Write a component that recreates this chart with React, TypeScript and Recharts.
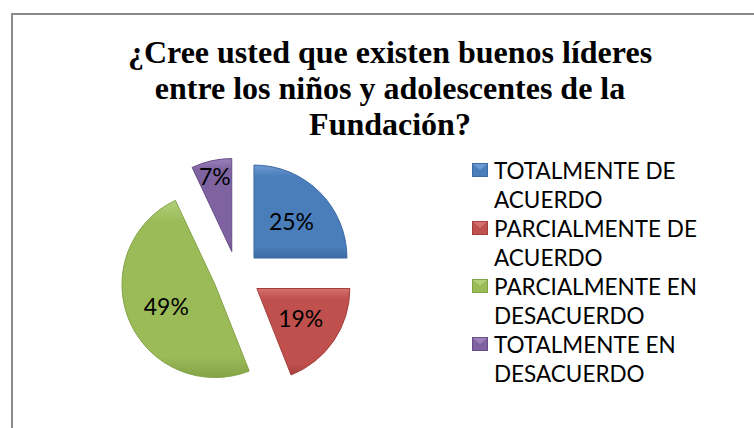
import React from 'react';
import { PieChart, Pie, Cell, Legend, Sector } from 'recharts';

const categories = [
  'TOTALMENTE DE ACUERDO',
  'PARCIALMENTE DE ACUERDO',
  'PARCIALMENTE EN DESACUERDO',
  'TOTALMENTE EN DESACUERDO',
];
const values = [25, 19, 49, 7];
const titleLines = [
  '¿Cree usted que existen buenos líderes',
  'entre los niños y adolescentes de la',
  'Fundación?',
];

const baseColors = ['#4a7ebb', '#c0504d', '#9bbb59', '#7f63a1'];
const lightColors = ['#6f9ad3', '#d4716e', '#b2d078', '#9b82bb'];
const darkColors = ['#3d6ba3', '#a23f3c', '#84a346', '#674d88'];

const data = categories.map((name, i) => ({ name, value: values[i] }));

const RAD = Math.PI / 180;
const EXPLODE = 24;
const CX = 237;
const CY = 275;
const R = 93;

// every slice is pulled out from the centre along its mid angle
const ExplodedSector = (props: any) => {
  const { cx, cy, midAngle } = props;
  const dx = EXPLODE * Math.cos(-midAngle * RAD);
  const dy = EXPLODE * Math.sin(-midAngle * RAD);
  return <Sector {...props} cx={cx + dx} cy={cy + dy} />;
};

const renderLabel = (props: any) => {
  const { cx, cy, midAngle, outerRadius, percent, index } = props;
  const k = index === 3 ? 0.83 : 0.57;
  const r = EXPLODE + outerRadius * k;
  const x = cx + r * Math.cos(-midAngle * RAD);
  const y = cy + r * Math.sin(-midAngle * RAD);
  return (
    <text
      x={x}
      y={y}
      textAnchor="middle"
      dominantBaseline="central"
      fontFamily="Lato"
      fontSize={23}
      fill="#000"
    >
      {`${Math.round(percent * 100)}%`}
    </text>
  );
};

const renderLegend = (props: any) => {
  const payload = [...(props.payload || [])].sort(
    (a: any, b: any) => categories.indexOf(a.value) - categories.indexOf(b.value)
  );
  return (
    <div style={{ fontFamily: 'Lato', fontSize: 22.5, lineHeight: '29px', color: '#000' }}>
      {payload.map((entry: any) => {
        const i = categories.indexOf(entry.value);
        return (
          <div key={entry.value} style={{ position: 'relative', paddingLeft: 22, width: 215 }}>
            <svg width={16} height={14} style={{ position: 'absolute', left: 0, top: 7 }}>
              <rect x={0} y={0} width={16} height={14} fill={baseColors[i]} />
              <polygon points="1,1 15,1 8,7" fill={lightColors[i]} />
              <rect x={0.5} y={0.5} width={15} height={13} fill="none" stroke={darkColors[i]} />
            </svg>
            {entry.value}
          </div>
        );
      })}
    </div>
  );
};

export default function App() {
  return (
    <div style={{ position: 'absolute', left: 0, top: 0, width: 754, height: 428, overflow: 'hidden', background: '#fff' }}>
      <div
        style={{
          position: 'absolute',
          left: 11,
          top: 13,
          width: 800,
          height: 500,
          borderLeft: '2px solid #8a8a8a',
          borderTop: '2px solid #8a8a8a',
        }}
      />
      <div style={{ position: 'absolute', left: 0, top: 0 }}>
        <PieChart width={754} height={428} margin={{ top: 0, right: 0, bottom: 0, left: 0 }}>
          <defs>
            {baseColors.map((c, i) => (
              <linearGradient key={i} id={`grad${i}`} x1="0" y1="0" x2="0" y2="1">
                <stop offset="0%" stopColor={lightColors[i]} />
                <stop offset="12%" stopColor={c} />
                <stop offset="88%" stopColor={c} />
                <stop offset="100%" stopColor={darkColors[i]} />
              </linearGradient>
            ))}
          </defs>
          <text
            x={390}
            textAnchor="middle"
            fontFamily="'Liberation Serif', 'DejaVu Serif', serif"
            fontWeight="bold"
            fontSize={32}
            fill="#000"
          >
            {titleLines.map((line, i) => (
              <tspan key={i} x={390} y={63 + i * 36}>
                {line}
              </tspan>
            ))}
          </text>
          <Pie
            data={data}
            dataKey="value"
            nameKey="name"
            cx={CX}
            cy={CY}
            outerRadius={R}
            startAngle={90}
            endAngle={-270}
            shape={ExplodedSector}
            label={renderLabel}
            labelLine={false}
            isAnimationActive={false}
          >
            {data.map((d, i) => (
              <Cell key={d.name} fill={`url(#grad${i})`} stroke={darkColors[i]} strokeWidth={1} />
            ))}
          </Pie>
          <Legend
            content={renderLegend}
            layout="vertical"
            wrapperStyle={{ position: 'absolute', left: 472, top: 156, width: 270 }}
          />
        </PieChart>
      </div>
    </div>
  );
}
